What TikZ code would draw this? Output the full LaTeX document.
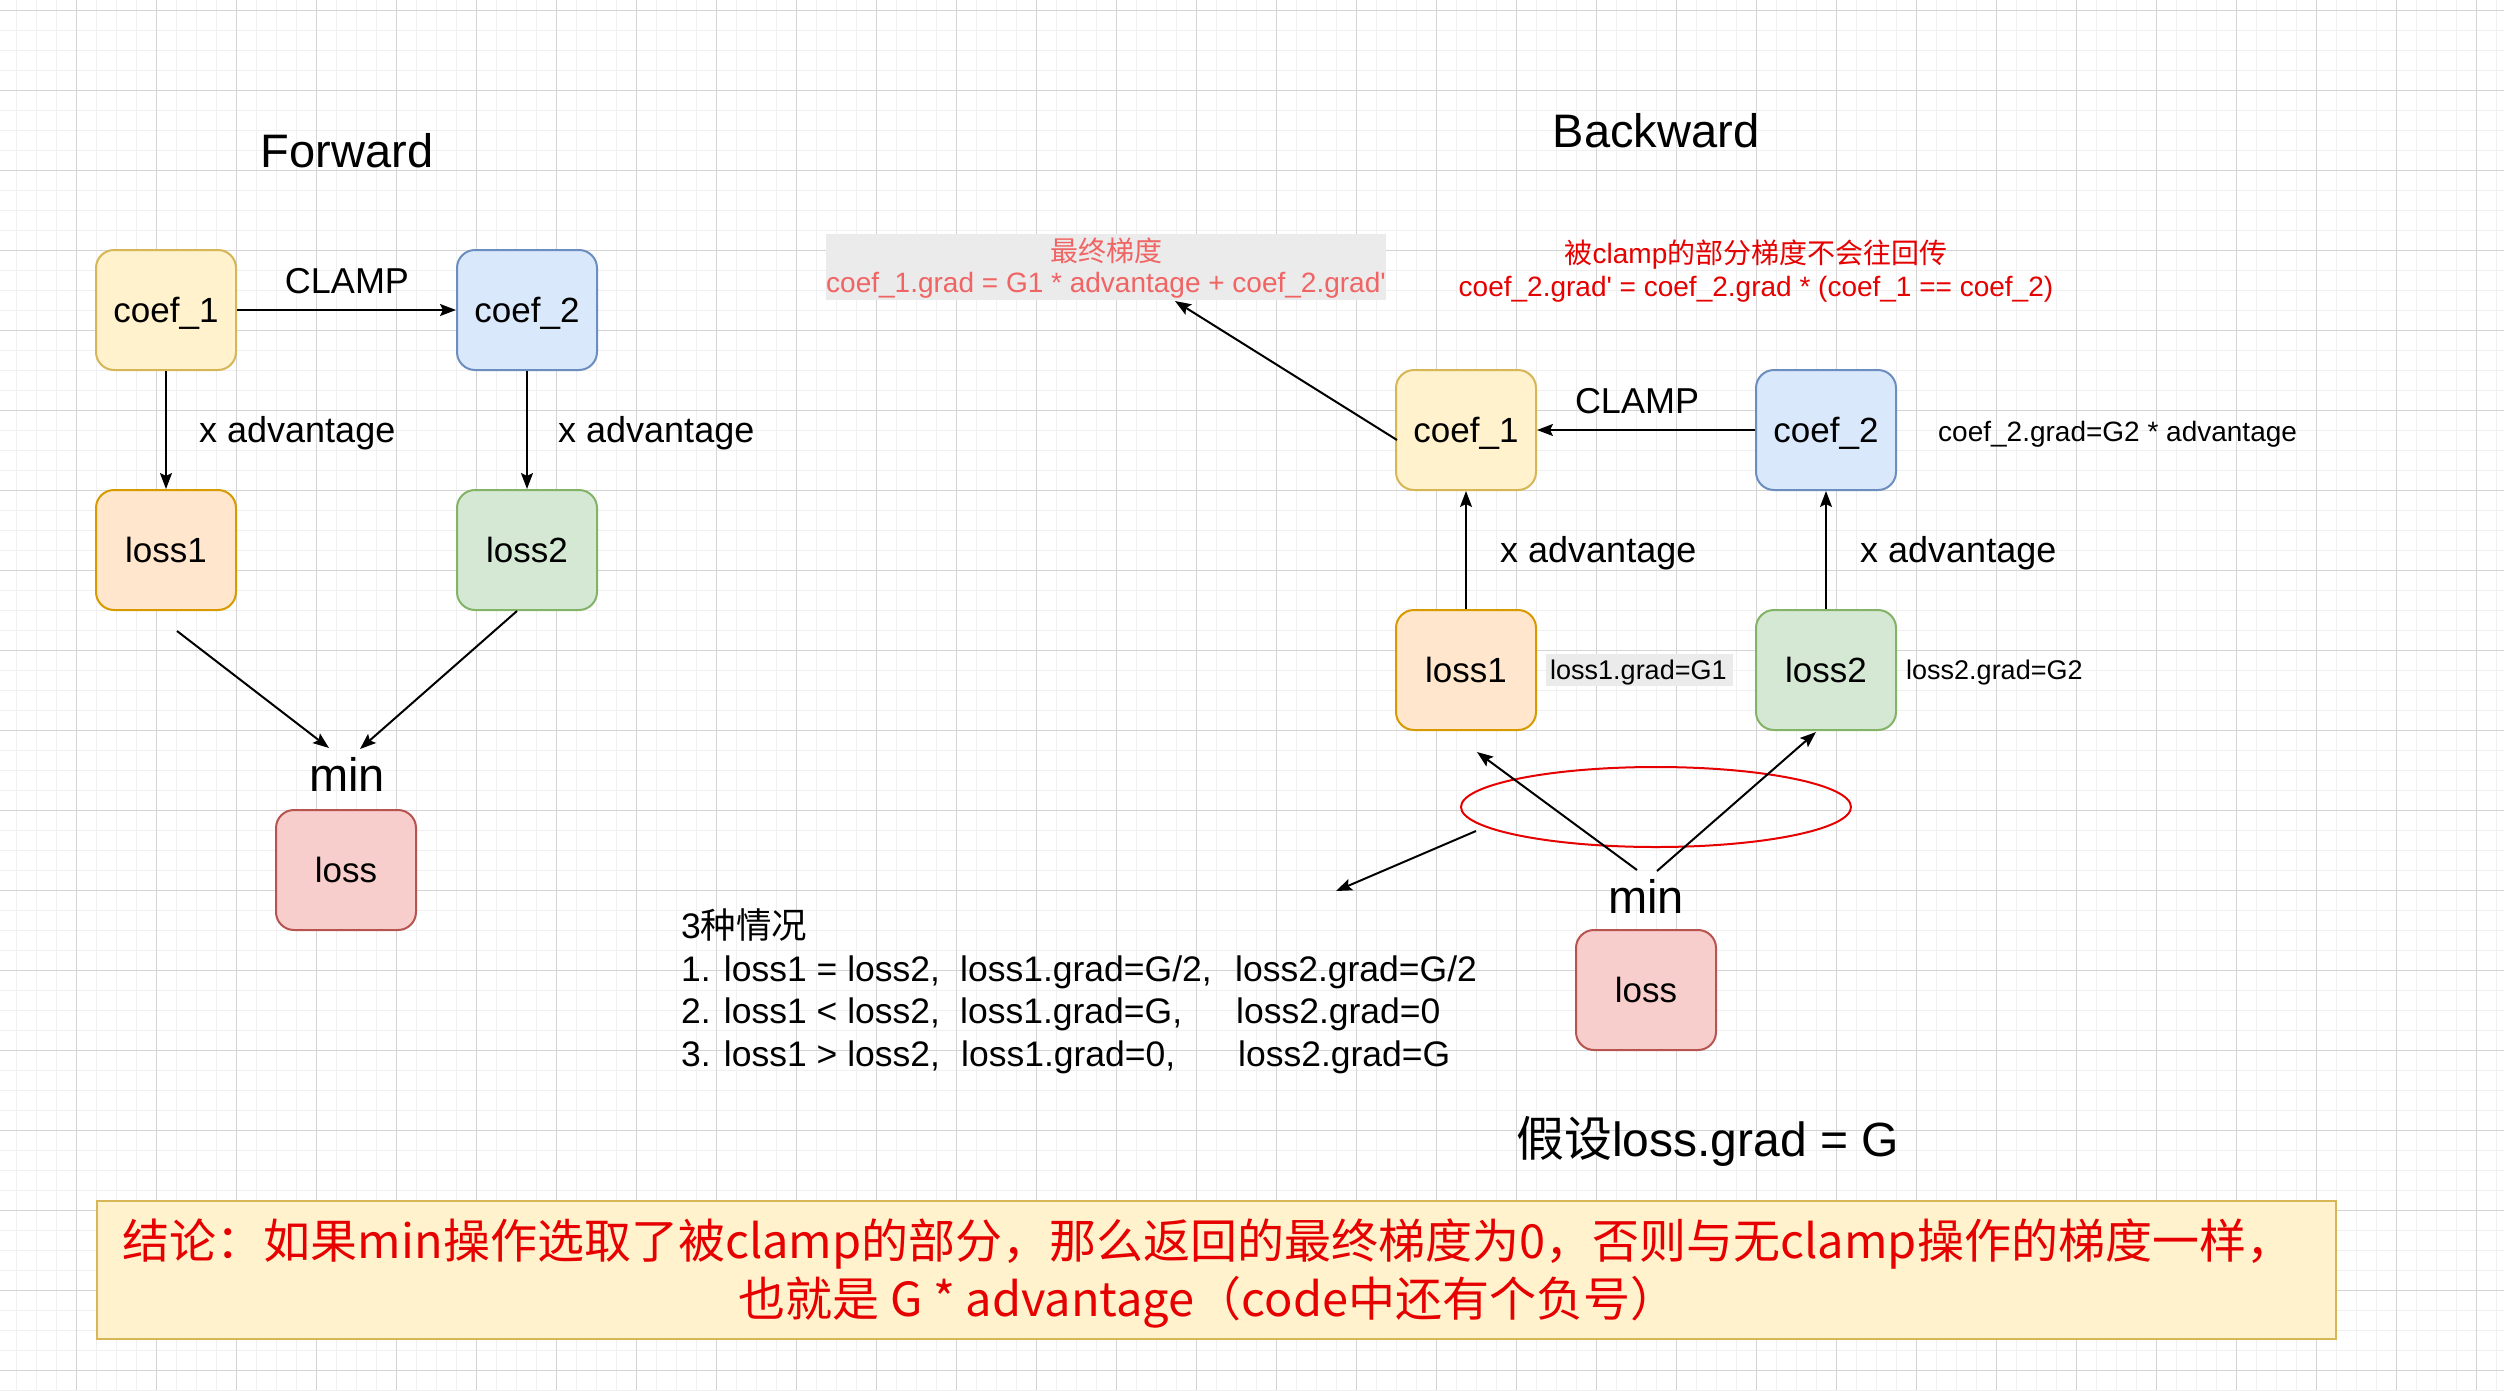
\documentclass[tikz,border=0pt]{standalone}
\usepackage{fontspec}
\setmainfont{Liberation Sans}[Ligatures=TeXOff]
\newfontfamily\cjk{Noto Sans CJK SC}
\usetikzlibrary{arrows.meta,shapes.geometric}
\definecolor{yfill}{HTML}{FFF2CC}\definecolor{ystroke}{HTML}{D6B656}
\definecolor{bfill}{HTML}{DAE8FC}\definecolor{bstroke}{HTML}{6C8EBF}
\definecolor{ofill}{HTML}{FFE6CC}\definecolor{ostroke}{HTML}{D79B00}
\definecolor{gfill}{HTML}{D5E8D4}\definecolor{gstroke}{HTML}{82B366}
\definecolor{rfill}{HTML}{F8CECC}\definecolor{rstroke}{HTML}{B85450}
\definecolor{redtext}{HTML}{E60000}
\definecolor{pinktext}{HTML}{F06464}
\definecolor{graybg}{HTML}{EBEBEB}
\definecolor{gridmin}{HTML}{F0F0F0}
\definecolor{gridmaj}{HTML}{D4D4D4}
\begin{document}
\begin{tikzpicture}[x=1pt,y=-1pt,
  box/.style={draw, rounded corners=18pt, line width=2pt, minimum width=140pt, minimum height=120pt, inner sep=0pt, font=\fontsize{35}{42}\selectfont, text height=25pt, text depth=0pt},
  yel/.style={fill=yfill, draw=ystroke},
  blu/.style={fill=bfill, draw=bstroke},
  org/.style={fill=ofill, draw=ostroke},
  grn/.style={fill=gfill, draw=gstroke},
  redb/.style={fill=rfill, draw=rstroke},
  arr/.style={-{Stealth[length=16pt,width=12pt,inset=3pt]}, line width=2pt},
  lbl/.style={inner sep=0pt, font=\fontsize{36}{43}\selectfont},
  ttl/.style={inner sep=0pt, font=\fontsize{47}{56}\selectfont},
  sm/.style={inner sep=0pt, font=\fontsize{28}{34}\selectfont},
  xs/.style={inner sep=0pt, font=\fontsize{27}{32}\selectfont},
  mid/.style={inner sep=0pt, font=\fontsize{35.5}{42}\selectfont},
  gminor/.style={draw=gridmin, line width=1pt},
  gmajor/.style={draw=gridmaj, line width=1pt}]
\useasboundingbox (0,0) rectangle (2504,1390);
\fill[white] (0,0) rectangle (2504,1390);
% grid
\foreach \x in {16,36,...,2496} {\draw[gminor] (\x,0) -- (\x,1390);}
\foreach \y in {10,30,...,1390} {\draw[gminor] (0,\y) -- (2504,\y);}
\foreach \x in {76,156,...,2476} {\draw[gmajor] (\x,0) -- (\x,1390);}
\foreach \y in {10,90,...,1370} {\draw[gmajor] (0,\y) -- (2504,\y);}

% ---------------- Forward ----------------
\node[ttl, anchor=base] (ftitle) at (347,167) {Forward};
\node[box,yel] (fc1) at (166,310) {coef\_1};
\node[box,blu] (fc2) at (527,310) {coef\_2};
\node[box,org] (fl1) at (166,550) {loss1};
\node[box,grn] (fl2) at (527,550) {loss2};
\node[box,redb] (floss) at (346,870) {loss};
\node[ttl, anchor=base] (fmin) at (347,791) {min};
\node[lbl, anchor=base] (fclamp) at (347,293) {CLAMP};
\node[lbl, anchor=base west] (fxa1) at (199,442) {x advantage};
\node[lbl, anchor=base west] (fxa2) at (558,442) {x advantage};
\draw[arr] (fc1) -- (fc2);
\draw[arr] (fc1) -- (fl1);
\draw[arr] (fc2) -- (fl2);
\coordinate (fa) at (177,631);
\coordinate (fb) at (329,748);
\coordinate (fc) at (517,611);
\coordinate (fd) at (360,749);
\draw[arr] (fa) -- (fb);
\draw[arr] (fc) -- (fd);

% ---------------- Backward ----------------
\node[ttl, anchor=base] (btitle) at (1656,147) {Backward};
\node[box,yel] (bc1) at (1466,430) {coef\_1};
\node[box,blu] (bc2) at (1826,430) {coef\_2};
\node[box,org] (bl1) at (1466,670) {loss1};
\node[box,grn] (bl2) at (1826,670) {loss2};
\node[box,redb] (bloss) at (1646,990) {loss};
\node[ttl, anchor=base] (bmin) at (1646,913) {min};
\node[lbl, anchor=base] (bclamp) at (1637,413) {CLAMP};
\node[lbl, anchor=base west] (bxa1) at (1500,562) {x advantage};
\node[lbl, anchor=base west] (bxa2) at (1860,562) {x advantage};
\node[sm, anchor=base west] (c2grad) at (1938,441) {coef\_2.grad=G2 * advantage};
\fill[graybg] (1546,654) rectangle (1733,686);
\node[xs, anchor=base west] (l1grad) at (1550,679) {loss1.grad=G1};
\node[xs, anchor=base west] (l2grad) at (1906,679) {loss2.grad=G2};
\draw[arr] (bc2) -- (bc1);
\draw[arr] (bl1) -- (bc1);
\draw[arr] (bl2) -- (bc2);

% gray note box
\node[fill=graybg, minimum width=560pt, minimum height=66pt, inner sep=0pt] (gbox) at (1106,267) {};
\node[sm, anchor=base, text=pinktext] (gt1) at (1106,261) {\cjk 最终梯度};
\node[sm, anchor=base, text=pinktext] (gt2) at (1106,292) {coef\_1.grad = G1 * advantage + coef\_2.grad'};
\coordinate (gstart) at (1397,440);
\coordinate (gtip) at (1175,301);
\draw[arr] (gstart) -- (gtip);

% red note
\node[sm, anchor=base, text=redtext] (rt1) at (1756,263) {{\cjk 被}clamp{\cjk 的部分梯度不会往回传}};
\node[sm, anchor=base, text=redtext] (rt2) at (1756,296) {coef\_2.grad' = coef\_2.grad * (coef\_1 == coef\_2)};

% ellipse and min arrows
\node[ellipse, draw=redtext, line width=2pt, minimum width=390pt, minimum height=80pt, inner sep=0pt] (ell) at (1656,807) {};
\coordinate (m1s) at (1637,870);
\coordinate (m1t) at (1477,752);
\coordinate (m2s) at (1657,871);
\coordinate (m2t) at (1816,732);
\coordinate (e1s) at (1476,831);
\coordinate (e1t) at (1336,891);
\draw[arr] (m1s) -- (m1t);
\draw[arr] (m2s) -- (m2t);
\draw[arr] (e1s) -- (e1t);

% cases
\node[mid, anchor=base west] (case0) at (681,938) {3{\cjk 种情况}};
\node[mid, anchor=base west] (case1a) at (681,981) {1. loss1 = loss2,};
\node[mid, anchor=base west] (case1b) at (960,981) {loss1.grad=G/2,};
\node[mid, anchor=base west] (case1c) at (1235,981) {loss2.grad=G/2};
\node[mid, anchor=base west] (case2a) at (681,1023) {2. loss1 < loss2,};
\node[mid, anchor=base west] (case2b) at (960,1023) {loss1.grad=G,};
\node[mid, anchor=base west] (case2c) at (1236,1023) {loss2.grad=0};
\node[mid, anchor=base west] (case3a) at (681,1066) {3. loss1 > loss2,};
\node[mid, anchor=base west] (case3b) at (961,1066) {loss1.grad=0,};
\node[mid, anchor=base west] (case3c) at (1238,1066) {loss2.grad=G};

% assumption
\node[inner sep=0pt, font=\fontsize{48}{57}\selectfont, anchor=base west] (assume) at (1516,1156) {{\cjk 假设}loss.grad = G};

% conclusion
\node[fill=yfill, draw=ystroke, line width=2pt, minimum width=2239pt, minimum height=138pt, inner sep=0pt] (concl) at (1216.5,1270) {};
\node[inner sep=0pt, anchor=base, text=redtext, font=\cjk\fontsize{47}{56}\selectfont] (cl1) at (1208,1258) {结论：如果min操作选取了被clamp的部分，那么返回的最终梯度为0，否则与无clamp操作的梯度一样，};
\node[inner sep=0pt, anchor=base, text=redtext, font=\cjk\fontsize{47}{56}\selectfont] (cl2) at (1208,1316) {也就是 G * advantage（code中还有个负号）};
\end{tikzpicture}
\end{document}
